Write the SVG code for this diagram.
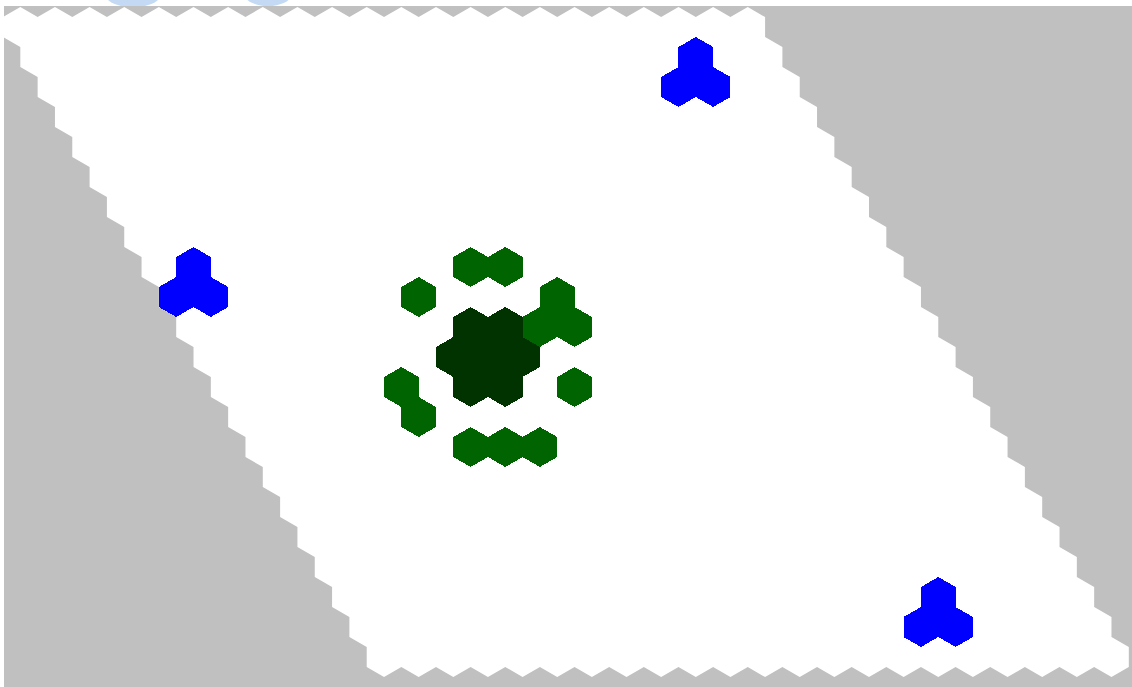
<svg xmlns="http://www.w3.org/2000/svg" width="1132" height="687" viewBox="0 0 1132 687">
<style>
.bg{fill:#c0c0c0}
.board{fill:#ffffff}
.blue{fill:#0000ff}
.green{fill:#006400}
.dark{fill:#003300}
.glass{fill:#c4daf4}
use{shape-rendering:crispEdges}
</style>
<defs>
<polygon id="hex" points="0,-20 17.32,-10 17.32,10 0,20 -17.32,10 -17.32,-10"/>
</defs>
<rect x="0" y="0" width="1132" height="687" fill="#ffffff"/>
<g id="top-glimpse">
<ellipse class="glass" cx="133" cy="-3" rx="26" ry="10"/>
<ellipse class="glass" cx="268" cy="-5" rx="23" ry="11"/>
</g>
<rect class="bg" x="4" y="6" width="1128" height="681"/>
<path id="board" class="board" d="M3,17
l17.32-10 l17.32 10 l17.32-10 l17.32 10 l17.32-10 l17.32 10 l17.32-10 l17.32 10 l17.32-10 l17.32 10 l17.32-10 l17.32 10
l17.32-10 l17.32 10 l17.32-10 l17.32 10 l17.32-10 l17.32 10 l17.32-10 l17.32 10 l17.32-10 l17.32 10 l17.32-10 l17.32 10
l17.32-10 l17.32 10 l17.32-10 l17.32 10 l17.32-10 l17.32 10 l17.32-10 l17.32 10 l17.32-10 l17.32 10 l17.32-10 l17.32 10
l17.32-10 l17.32 10 l17.32-10 l17.32 10 l17.32-10 l17.32 10 l17.32-10 l17.32 10
v20 l17.32 10 v20 l17.32 10 v20 l17.32 10 v20 l17.32 10 v20 l17.32 10 v20 l17.32 10 v20 l17.32 10
v20 l17.32 10 v20 l17.32 10 v20 l17.32 10 v20 l17.32 10 v20 l17.32 10 v20 l17.32 10 v20 l17.32 10
v20 l17.32 10 v20 l17.32 10 v20 l17.32 10 v20 l17.32 10 v20 l17.32 10 v20 l17.32 10 v20 l17.32 10
v20
l-17.32 10 l-17.32-10 l-17.32 10 l-17.32-10 l-17.32 10 l-17.32-10 l-17.32 10 l-17.32-10 l-17.32 10 l-17.32-10 l-17.32 10 l-17.32-10
l-17.32 10 l-17.32-10 l-17.32 10 l-17.32-10 l-17.32 10 l-17.32-10 l-17.32 10 l-17.32-10 l-17.32 10 l-17.32-10 l-17.32 10 l-17.32-10
l-17.32 10 l-17.32-10 l-17.32 10 l-17.32-10 l-17.32 10 l-17.32-10 l-17.32 10 l-17.32-10 l-17.32 10 l-17.32-10 l-17.32 10 l-17.32-10
l-17.32 10 l-17.32-10 l-17.32 10 l-17.32-10 l-17.32 10 l-17.32-10 l-17.32 10 l-17.32-10
v-20 l-17.32-10 v-20 l-17.32-10 v-20 l-17.32-10 v-20 l-17.32-10 v-20 l-17.32-10 v-20 l-17.32-10 v-20 l-17.32-10
v-20 l-17.32-10 v-20 l-17.32-10 v-20 l-17.32-10 v-20 l-17.32-10 v-20 l-17.32-10 v-20 l-17.32-10 v-20 l-17.32-10
v-20 l-17.32-10 v-20 l-17.32-10 v-20 l-17.32-10 v-20 l-17.32-10 v-20 l-17.32-10 v-20 l-17.32-10 v-20 l-17.32-10
v-20 z"/>
<g id="blue-top-right" class="blue">
<use href="#hex" x="695.8" y="57"/>
<use href="#hex" x="678.48" y="87"/>
<use href="#hex" x="713.12" y="87"/>
</g>
<g id="blue-left" class="blue">
<use href="#hex" x="193.52" y="267"/>
<use href="#hex" x="176.2" y="297"/>
<use href="#hex" x="210.84" y="297"/>
</g>
<g id="blue-bottom-right" class="blue">
<use href="#hex" x="938.28" y="597"/>
<use href="#hex" x="920.96" y="627"/>
<use href="#hex" x="955.6" y="627"/>
</g>
<g id="green-ring" class="green">
<use href="#hex" x="470.64" y="267"/>
<use href="#hex" x="505.28" y="267"/>
<use href="#hex" x="418.68" y="297"/>
<use href="#hex" x="557.24" y="297"/>
<use href="#hex" x="539.92" y="327"/>
<use href="#hex" x="574.56" y="327"/>
<use href="#hex" x="574.56" y="387"/>
<use href="#hex" x="401.36" y="387"/>
<use href="#hex" x="418.68" y="417"/>
<use href="#hex" x="470.64" y="447"/>
<use href="#hex" x="505.28" y="447"/>
<use href="#hex" x="539.92" y="447"/>
</g>
<g id="dark-core" class="dark">
<use href="#hex" x="470.64" y="327"/>
<use href="#hex" x="505.28" y="327"/>
<use href="#hex" x="453.32" y="357"/>
<use href="#hex" x="487.96" y="357"/>
<use href="#hex" x="522.6" y="357"/>
<use href="#hex" x="470.64" y="387"/>
<use href="#hex" x="505.28" y="387"/>
</g>
</svg>
